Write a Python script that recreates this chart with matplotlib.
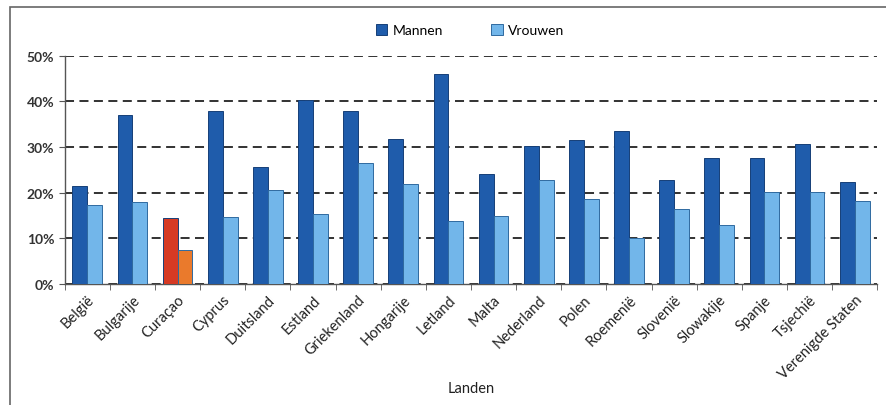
import matplotlib
matplotlib.use("Agg")
import matplotlib.pyplot as plt
import numpy as np
from matplotlib.patches import Rectangle

plt.rcParams['font.family'] = ['Lato', 'DejaVu Sans']

landen = ["België", "Bulgarije", "Curaçao", "Cyprus", "Duitsland", "Estland",
          "Griekenland", "Hongarije", "Letland", "Malta", "Nederland", "Polen",
          "Roemenië", "Slovenië", "Slowakije", "Spanje", "Tsjechië", "Verenigde Staten"]
mannen = [21.5, 37, 14.5, 38, 25.7, 40.3, 38, 31.8, 46, 24, 30.2, 31.6, 33.5, 22.8, 27.6, 27.6, 30.7, 22.4]
vrouwen = [17.3, 18, 7.5, 14.7, 20.6, 15.3, 26.5, 22, 13.8, 15, 22.8, 18.6, 10, 16.4, 12.9, 20.2, 20.2, 18.2]
yticks = [0, 10, 20, 30, 40, 50]

c_m = "#1f5cab"
c_v = "#72b6ea"
c_m_hl = "#d63a24"
c_v_hl = "#ea7a2c"
highlight = "Curaçao"

fig = plt.figure(figsize=(8.87, 4.06), dpi=100)
ax = fig.add_axes([0.073, 0.298, 0.916, 0.562])

x = np.arange(len(landen))
w = 0.33
cm = [c_m_hl if l == highlight else c_m for l in landen]
cv = [c_v_hl if l == highlight else c_v for l in landen]
ax.bar(x - w/2, mannen, w, color=cm, edgecolor="#163f78", linewidth=0.7, label="Mannen", zorder=3)
ax.bar(x + w/2, vrouwen, w, color=cv, edgecolor="#2f6aa0", linewidth=0.7, label="Vrouwen", zorder=3)

ax.set_ylim(0, 50)
ax.set_xlim(-0.5, len(landen) - 0.5)
ax.set_yticks(yticks)
ax.set_yticklabels([f"{v}%" for v in yticks], fontsize=10, fontweight="bold", color="#333333")
ax.yaxis.grid(True, linestyle=(0, (5, 3)), color="#222222", linewidth=1.3, zorder=0)
ax.set_axisbelow(True)

ax.set_xticks(x)
ax.set_xticklabels(landen, rotation=45, ha="right", rotation_mode="anchor", fontsize=10.5, color="#222222")
ax.tick_params(axis="x", length=0, pad=6)
ax.set_xticks(np.arange(-0.5, len(landen)), minor=True)
ax.tick_params(axis="x", which="minor", length=4, color="#555555")
ax.tick_params(axis="y", length=4, color="#555555")

for s in ["top", "right"]:
    ax.spines[s].set_visible(False)
for s in ["left", "bottom"]:
    ax.spines[s].set_color("#555555")
    ax.spines[s].set_linewidth(1.0)

ax.set_xlabel("Landen", fontsize=10.5, color="#222222", labelpad=0)

leg = fig.legend(loc="center", bbox_to_anchor=(0.53, 0.923), ncol=2, frameon=False,
                 fontsize=10, handlelength=0.8, handleheight=0.8, columnspacing=3.5,
                 handletextpad=0.4)

fig.patches.append(Rectangle((0.011, -0.05), 1.2, 1.03, transform=fig.transFigure,
                             fill=False, edgecolor="#666666", linewidth=1.2))

fig.savefig("out.png", dpi=100)
